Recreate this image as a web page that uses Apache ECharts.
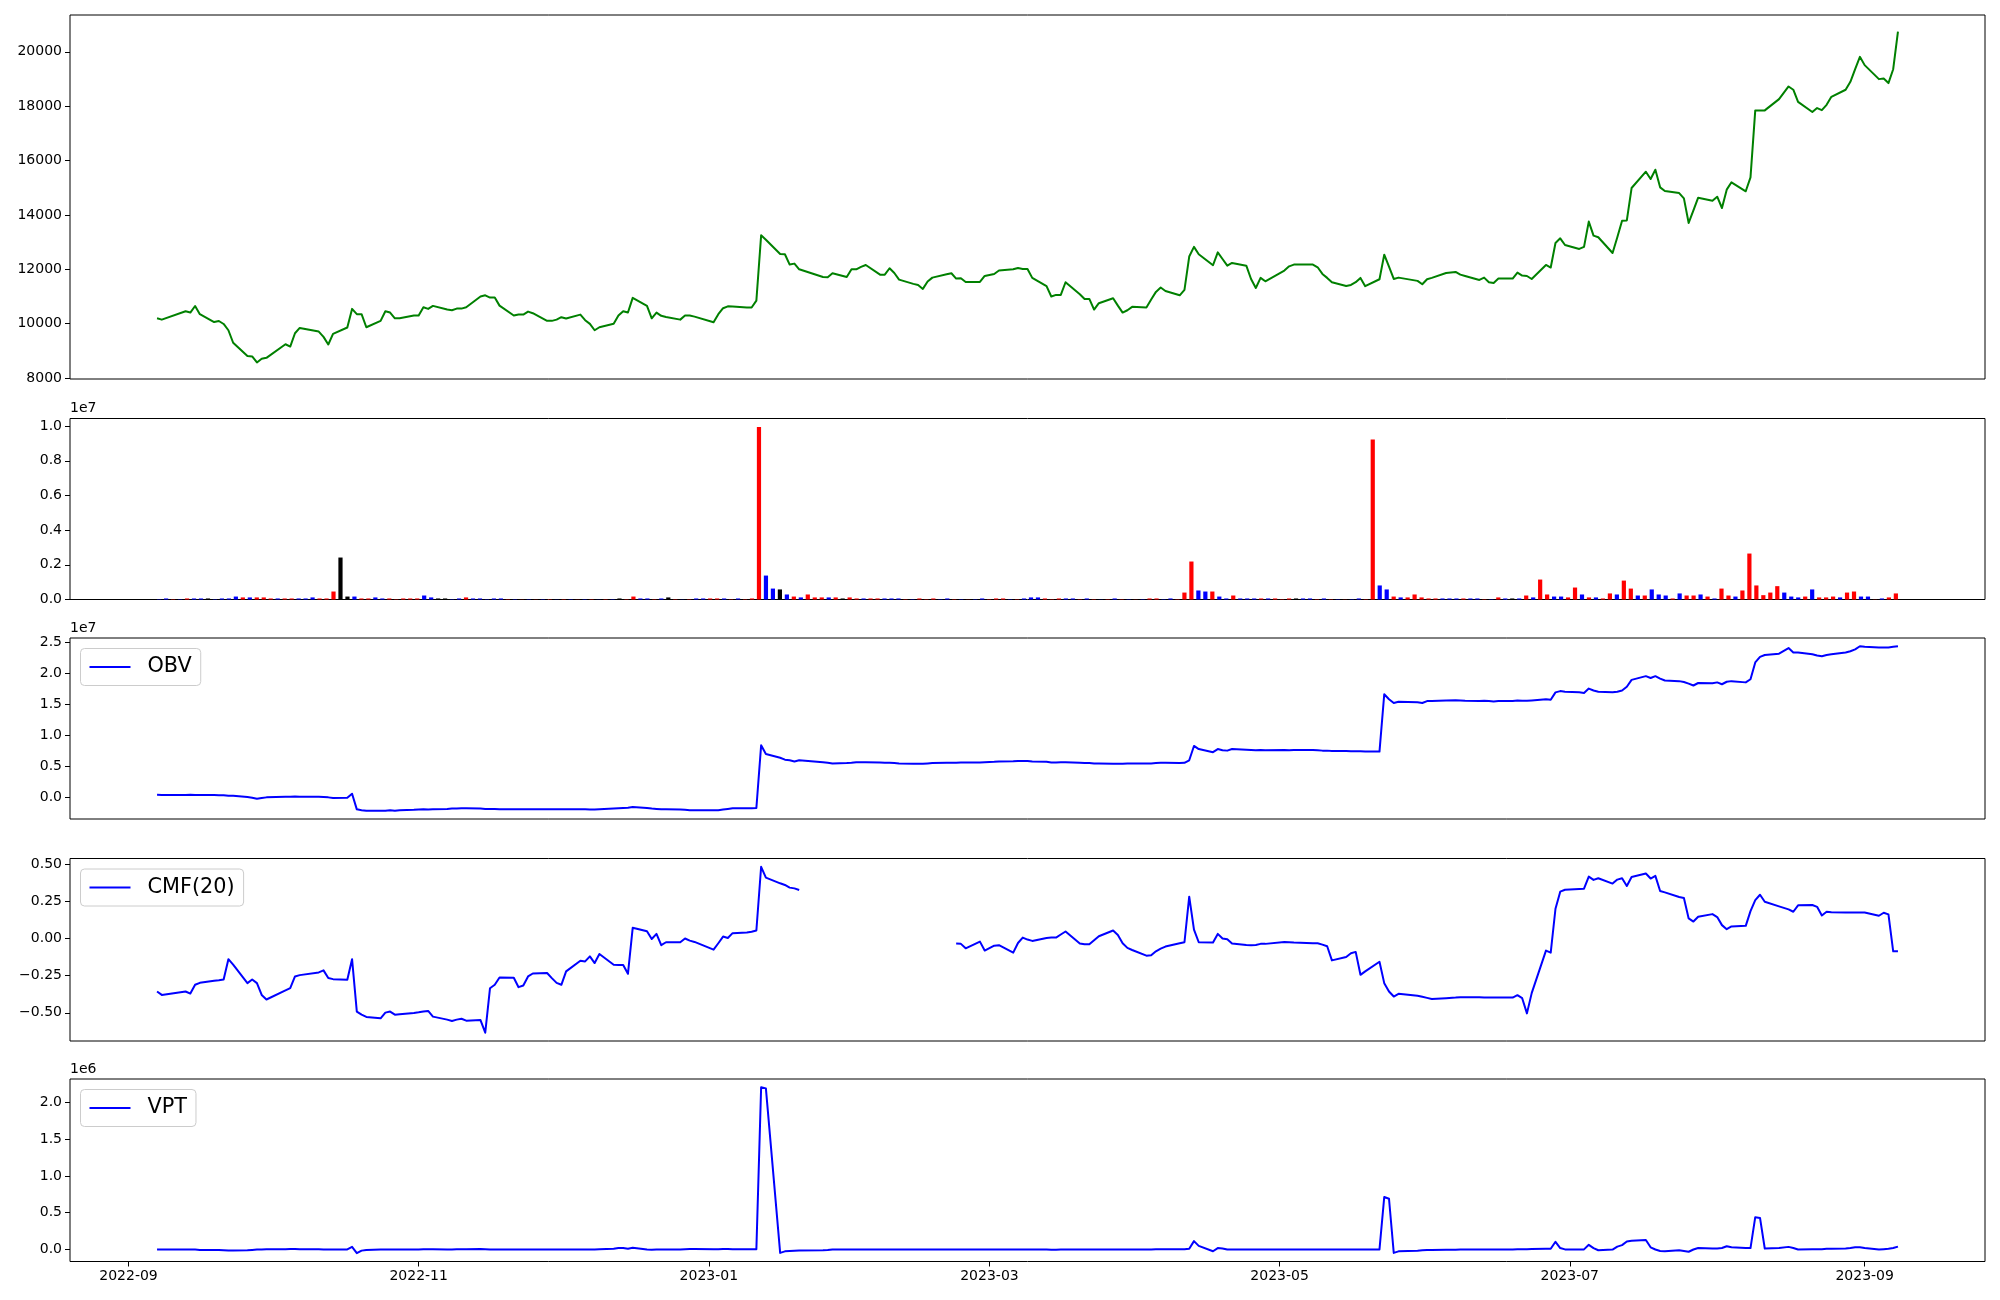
<!DOCTYPE html>
<html><head><meta charset="utf-8">
<script src="https://cdn.jsdelivr.net/npm/echarts@6/dist/echarts.min.js"></script>
<style>html,body{margin:0;padding:0;background:#fff}#c{width:2000px;height:1300px}</style>
</head><body><div id="c"></div>
<script>
// ---------------- data ----------------
const firstDay = '2022-09-07';
const lastDay = '2023-09-08';
const holidays = ['2022-09-09','2022-09-12','2022-10-03','2022-10-10','2022-12-30','2023-01-23','2023-01-24',
  '2023-03-01','2023-05-01','2023-05-05','2023-05-29','2023-06-06','2023-08-15'];

const monthTicks = ['2022-09-01','2022-11-01','2023-01-01','2023-03-01','2023-05-01','2023-07-01','2023-09-01'];
const priceTicks = [8000,10000,12000,14000,16000,18000,20000];
const volTicksE6 = [0,2,4,6,8,10];
const obvTicksE7 = [0,0.5,1.0,1.5,2.0,2.5];
const cmfTicks = [-0.5,-0.25,0,0.25,0.5];
const vptTicksE6 = [0,0.5,1.0,1.5,2.0];

const close = [
10200,10150,10460,10410,10650,10350,
10060,10100,9990,9760,9300,
8810,8795,8575,8710,8745,
9245,9160,9650,9845,
9710,9515,9235,9625,
9860,10545,10350,10350,9870,
10105,10460,10410,10200,10200,
10300,10300,10605,10545,10655,
10520,10495,10555,10555,10605,
11000,11045,10960,10960,10665,
10300,10335,10335,10445,10385,
10105,10105,10150,10240,10190,
10335,10130,9995,9760,9870,
9995,10300,10460,10410,10950,
10655,10200,10410,10290,10250,
10150,10300,10300,10260,
10055,10350,10570,10640,10630,
10600,10595,10850,13250,13090,
12565,12555,12175,12210,12000,
11720,11710,11855,
11720,12000,12000,12090,12160,
11805,11805,12040,11865,11620,
11465,11425,11280,11550,11695,
11820,11855,11660,11670,11535,
11535,11755,
11830,11955,
12000,12050,12015,12015,11685,
11380,11000,11060,11060,11525,
11085,10910,10910,10520,10755,
10935,10665,10410,10495,10620,
10595,10890,11170,11330,11205,
11045,11245,12470,12825,12555,
12150,12625,12380,12135,12235,
12135,11645,11315,11685,11560,
11955,12110,12175,
12175,12075,11830,11685,11525,
11390,11425,11525,11685,11380,
11635,12540,12100,11645,11695,
11575,11450,11635,11685,
11865,
11905,11805,11755,
11610,11695,11525,11500,11660,
11660,11880,11770,11755,11645,
12160,12065,12970,13140,12895,
12750,12825,13755,13240,13180,
12600,13180,13790,13800,14990,
15590,15320,15665,15015,14880,
14805,14610,13705,14170,14635,
14525,14670,14255,14930,15200,
14870,15380,17845,17845,17845,
18260,
18725,18605,18160,
17785,17930,17855,18050,18345,
18605,18895,19360,19815,
19510,
18995,19020,18850,19360,20745
];

// volume in millions of shares
const volumeE6 = [
0.02,0.06,0.02,0.02,0.06,0.06,0.06,0.06,0.02,0.06,
0.06,0.17,0.12,0.12,0.12,0.12,0.06,0.06,0.06,0.06,
0.06,0.06,0.12,0.06,0.06,0.46,2.42,0.17,0.17,0.06,
0.06,0.12,0.06,0.06,0.02,0.06,0.06,0.06,0.23,0.12,
0.06,0.06,0.02,0.06,0.12,0.06,0.06,0.02,0.06,0.06,
0.02,0.02,0.01,0.02,0.01,0.02,0.02,0.01,0.02,0.02,
0.01,0.02,0.02,0.01,0.02,0.02,0.06,0.02,0.17,0.06,
0.06,0.02,0.06,0.12,0.02,0.01,0.02,0.06,0.06,0.06,
0.06,0.06,0.02,0.06,0.02,0.06,9.94,1.38,0.63,0.58,
0.29,0.17,0.12,0.29,0.12,0.12,0.12,0.12,0.06,0.12,
0.06,0.06,0.06,0.06,0.06,0.06,0.06,0.02,0.02,0.06,
0.02,0.06,0.02,0.06,0.02,0.02,0.01,0.02,0.06,0.02,
0.06,0.06,0.02,0.02,0.06,0.12,0.12,0.06,0.02,0.06,
0.06,0.06,0.02,0.06,0.02,0.01,0.02,0.06,0.02,0.02,
0.01,0.02,0.06,0.06,0.02,0.06,0.02,0.40,2.19,0.52,
0.46,0.46,0.17,0.06,0.23,0.06,0.06,0.06,0.06,0.06,
0.06,0.02,0.06,0.06,0.06,0.06,0.02,0.06,0.02,0.02,
0.01,0.02,0.06,0.02,9.22,0.81,0.58,0.17,0.12,0.12,
0.29,0.12,0.06,0.06,0.06,0.06,0.06,0.06,0.06,0.06,
0.02,0.02,0.12,0.06,0.06,0.06,0.23,0.12,1.15,0.29,
0.17,0.17,0.12,0.69,0.29,0.12,0.12,0.06,0.35,0.29,
1.09,0.63,0.23,0.23,0.58,0.29,0.23,0.06,0.35,0.23,
0.23,0.29,0.17,0.06,0.63,0.23,0.17,0.52,2.65,0.81,
0.25,0.40,0.77,0.40,0.17,0.12,0.17,0.58,0.12,0.12,
0.17,0.12,0.40,0.46,0.17,0.17,0.01,0.06,0.12,0.35
];

// day direction: 1 up, -1 down, 0 unchanged
const volDir = [
-1,-1,1,-1,1,-1,-1,0,-1,-1,
-1,-1,1,-1,1,1,1,-1,1,1,
-1,-1,-1,1,1,1,0,0,-1,1,
1,-1,-1,1,1,1,1,1,-1,-1,
0,0,-1,-1,1,-1,-1,-1,-1,-1,
1,-1,1,-1,1,-1,1,-1,1,-1,
1,-1,1,-1,1,-1,0,1,1,-1,
-1,1,-1,0,1,-1,1,-1,-1,1,
1,-1,1,-1,1,1,1,-1,-1,0,
-1,1,-1,1,1,1,-1,1,0,1,
1,-1,1,1,-1,-1,-1,1,-1,1,
1,1,-1,-1,1,-1,1,-1,-1,1,
1,1,-1,1,-1,-1,-1,1,1,1,
-1,-1,1,-1,1,-1,1,-1,1,-1,
1,-1,1,1,-1,-1,1,1,1,-1,
-1,1,-1,-1,1,-1,-1,-1,1,-1,
1,1,1,0,-1,-1,1,-1,1,-1,
1,-1,-1,1,1,-1,-1,1,-1,1,
1,1,1,1,-1,-1,-1,1,-1,-1,
1,-1,1,-1,0,-1,1,-1,1,1,
-1,-1,1,1,-1,1,-1,1,1,-1,
1,1,-1,1,-1,-1,-1,1,-1,1,
1,-1,1,-1,1,1,-1,1,1,1,
1,1,1,-1,-1,-1,1,-1,1,1,
1,-1,1,1,-1,-1,1,-1,1,1
];

// OBV in units of 1e7
const obvE7 = [
0.048,0.045,0.045,0.048,0.045,0.043,0.043,0.040,0.040,0.030,
0.030,0.010,0.000,-0.016,-0.005,0.005,0.016,0.016,0.020,0.016,
0.016,0.010,0.005,-0.005,0.000,0.064,-0.187,-0.200,-0.210,-0.210,
-0.210,-0.200,-0.210,-0.200,-0.195,-0.190,-0.185,-0.190,-0.187,-0.180,
-0.175,-0.175,-0.170,-0.170,-0.175,-0.180,-0.180,-0.180,-0.185,-0.185,
-0.185,-0.185,-0.185,-0.185,-0.187,-0.187,-0.187,-0.187,-0.187,-0.187,
-0.187,-0.190,-0.190,-0.185,-0.175,-0.170,-0.165,-0.160,-0.150,-0.165,
-0.175,-0.180,-0.187,-0.187,-0.190,-0.195,-0.200,-0.200,-0.203,-0.200,
-0.190,-0.180,-0.170,-0.170,-0.170,-0.165,0.840,0.700,0.640,0.610,
0.600,0.580,0.600,0.570,0.560,0.550,0.555,0.560,0.570,0.570,
0.570,0.565,0.560,0.560,0.555,0.550,0.545,0.545,0.545,0.550,
0.555,0.560,0.560,0.560,0.565,0.565,0.565,0.570,0.575,0.580,
0.585,0.590,0.590,0.590,0.580,0.575,0.565,0.565,0.570,0.570,
0.560,0.555,0.555,0.550,0.550,0.545,0.545,0.545,0.550,0.550,
0.550,0.550,0.555,0.560,0.560,0.555,0.560,0.600,0.830,0.780,
0.730,0.780,0.760,0.755,0.780,0.770,0.765,0.760,0.765,0.760,
0.765,0.760,0.765,0.765,0.760,0.755,0.755,0.750,0.750,0.745,
0.745,0.745,0.740,0.740,1.660,1.580,1.520,1.540,1.530,1.520,
1.550,1.550,1.560,1.565,1.560,1.555,1.550,1.555,1.550,1.545,
1.550,1.550,1.560,1.555,1.555,1.560,1.580,1.570,1.690,1.710,
1.700,1.690,1.680,1.750,1.720,1.700,1.690,1.700,1.720,1.780,
1.890,1.950,1.920,1.950,1.910,1.880,1.870,1.855,1.830,1.800,
1.840,1.835,1.850,1.820,1.860,1.870,1.850,1.900,2.170,2.260,
2.290,2.310,2.400,2.330,2.330,2.300,2.280,2.270,2.290,2.300,
2.330,2.350,2.380,2.430,2.420,2.410,2.410,2.410,2.420,2.430
];

// CMF(20); null = not available
const cmf20 = [
-0.357,-0.380,-0.357,-0.371,-0.312,-0.299,-0.285,-0.281,-0.276,-0.140,
-0.177,-0.301,-0.276,-0.301,-0.380,-0.411,-0.350,-0.335,-0.256,-0.247,
-0.229,-0.215,-0.267,-0.274,-0.278,-0.140,-0.492,-0.513,-0.528,-0.537,
-0.499,-0.492,-0.513,-0.510,-0.501,-0.497,-0.492,-0.488,-0.526,-0.546,
-0.555,-0.546,-0.540,-0.553,-0.549,-0.634,-0.335,-0.312,-0.263,-0.265,
-0.328,-0.317,-0.256,-0.236,-0.233,-0.267,-0.299,-0.312,-0.222,-0.150,
-0.155,-0.121,-0.166,-0.105,-0.177,-0.179,-0.179,-0.238,0.071,0.048,
-0.004,0.030,-0.046,-0.026,-0.026,-0.001,-0.015,-0.024,-0.076,-0.033,
0.012,0.003,0.035,0.039,0.044,0.053,0.481,0.408,0.370,0.359,
0.341,0.336,0.325,null,null,null,null,null,null,null,
null,null,null,null,null,null,null,null,null,null,
null,null,null,-0.035,-0.037,-0.067,-0.022,-0.082,-0.049,-0.046,
-0.096,-0.031,0.005,-0.008,-0.017,0.003,0.005,0.005,0.026,0.046,
-0.035,-0.040,-0.040,-0.013,0.014,0.053,0.023,-0.033,-0.064,-0.078,
-0.116,-0.114,-0.087,-0.069,-0.055,-0.033,-0.026,0.280,0.059,-0.026,
-0.028,0.030,-0.001,-0.006,-0.035,-0.044,-0.046,-0.044,-0.037,-0.037,
-0.024,-0.026,-0.028,-0.033,-0.033,-0.042,-0.053,-0.148,-0.125,-0.100,
-0.091,-0.245,-0.222,-0.157,-0.301,-0.357,-0.391,-0.373,-0.386,-0.393,
-0.400,-0.407,-0.402,-0.398,-0.395,-0.395,-0.395,-0.398,-0.398,-0.398,
-0.398,-0.398,-0.382,-0.402,-0.504,-0.368,-0.082,-0.096,0.199,0.314,
0.327,0.332,0.334,0.415,0.393,0.404,0.368,0.395,0.404,0.352,
0.413,0.436,0.402,0.420,0.318,0.309,0.278,0.271,0.134,0.113,
0.145,0.163,0.143,0.089,0.062,0.080,0.084,0.183,0.257,0.293,
0.246,0.215,0.195,0.179,0.222,0.224,0.212,0.154,0.179,0.176,
0.174,0.174,0.174,0.174,0.174,0.152,0.172,0.161,-0.087,-0.087
];

// VPT in units of 1e6
const vptE6 = [
0.000,0.002,0.002,0.000,0.000,-0.005,-0.005,-0.008,-0.010,-0.012,
-0.014,-0.010,-0.005,0.000,0.002,0.004,0.004,0.006,0.006,0.004,
0.004,0.002,0.000,0.000,0.002,0.036,-0.050,-0.015,-0.005,0.000,
0.002,0.002,0.000,0.000,0.002,0.002,0.004,0.004,0.004,0.002,
0.002,0.004,0.004,0.004,0.006,0.004,0.002,0.002,0.002,0.002,
0.002,0.002,0.002,0.002,0.002,0.002,0.002,0.002,0.002,0.002,
0.002,0.002,0.002,0.004,0.010,0.020,0.020,0.010,0.023,0.000,
-0.002,0.000,0.002,0.002,0.002,0.004,0.006,0.006,0.004,0.004,
0.006,0.006,0.004,0.004,0.004,0.004,2.205,2.190,-0.046,-0.025,
-0.020,-0.015,-0.012,-0.010,-0.008,0.000,0.002,0.002,0.002,0.002,
0.002,0.002,0.002,0.002,0.002,0.002,0.002,0.002,0.002,0.002,
0.002,0.002,0.002,0.002,0.002,0.002,0.002,0.002,0.002,0.002,
0.002,0.002,0.002,0.002,0.002,0.000,-0.002,-0.002,0.000,0.002,
0.002,0.002,0.000,0.000,0.002,0.002,0.002,0.000,0.002,0.002,
0.002,0.002,0.004,0.004,0.004,0.004,0.004,0.010,0.114,0.050,
-0.023,0.020,0.015,0.000,0.002,0.002,0.000,0.000,0.002,0.002,
0.002,0.002,0.002,0.002,0.002,0.002,0.002,0.002,0.002,0.002,
0.002,0.002,0.002,0.002,0.714,0.690,-0.046,-0.025,-0.015,-0.010,
-0.008,-0.005,-0.004,-0.002,0.000,0.000,0.002,0.002,0.002,0.002,
0.002,0.002,0.004,0.004,0.004,0.006,0.010,0.010,0.105,0.020,
0.002,0.000,0.002,0.064,0.020,-0.010,0.000,0.040,0.060,0.110,
0.120,0.130,0.030,0.000,-0.020,-0.023,-0.010,-0.020,-0.030,0.000,
0.020,0.015,0.015,0.020,0.045,0.030,0.020,0.020,0.440,0.430,
0.014,0.020,0.036,0.020,0.000,0.005,0.005,0.005,0.010,0.010,
0.015,0.020,0.030,0.030,0.020,0.000,0.005,0.010,0.020,0.040
];

// ---------------- build ----------------
const DAY = 86400000;
function ts(s){ const p = s.split('-').map(Number); return Date.UTC(p[0], p[1]-1, p[2]); }
const dates = [];
for (let t = ts(firstDay); t <= ts(lastDay); t += DAY) {
  const w = new Date(t).getUTCDay();
  if (w === 0 || w === 6) continue;
  if (holidays.includes(new Date(t).toISOString().slice(0,10))) continue;
  dates.push(t);
}
function pad(lo, hi){ const r = hi - lo; return [lo - 0.05*r, hi + 0.05*r]; }
function ext(a){ const v = a.filter(x => x !== null); return [Math.min(...v), Math.max(...v)]; }
function pairs(arr){ return arr.map((v,i) => [dates[i], v === null ? '-' : v]); }

const xT = pad(dates[0], dates[dates.length-1]);
const N = volumeE6.length, BW = 0.6;
const xB = pad(-BW/2, N - 1 + BW/2);
const yP = pad(...ext(close));
const yO = pad(...ext(obvE7));
const yC = pad(...ext(cmf20));
const yV = pad(...ext(vptE6));
const yVol = [0, Math.max(...volumeE6) * 1.05];

const FONT = 'DejaVu Sans';
const tops = [15, 418.5, 638, 858.5, 1079];
const heights = [364, 181, 181, 182.5, 182.5];
const grids = tops.map((t,i) => ({left:70, width:1915, top:t, height:heights[i], show:true,
  borderColor:'#000', borderWidth:1, backgroundColor:'transparent', containLabel:false, outerBoundsMode:'none'}));

function yAxis(gi, lim, ticks, fmt, name){
  return {type:'value', gridIndex:gi, min:lim[0], max:lim[1], scale:true, position:'left',
    splitLine:{show:false}, axisLine:{show:false, onZero:false},
    axisTick:{show:true, inside:false, length:5, lineStyle:{color:'#000', width:1}, customValues:ticks},
    axisLabel:{show:true, customValues:ticks, formatter:fmt, color:'#000', fontSize:14, fontFamily:FONT, margin:8},
    name: name || '', nameLocation:'end', nameGap:3,
    nameTextStyle:{align:'left', verticalAlign:'bottom', fontSize:14, fontFamily:FONT, color:'#000', padding:[0,0,0,0]}};
}
function xHidden(gi, lim){
  return {type:'value', gridIndex:gi, min:lim[0], max:lim[1], position:'bottom', splitLine:{show:false},
    axisLine:{show:false, onZero:false}, axisTick:{show:false}, axisLabel:{show:false}};
}
const monthTs = monthTicks.map(ts);
const xBottom = {type:'value', gridIndex:4, min:xT[0], max:xT[1], position:'bottom', splitLine:{show:false},
  axisLine:{show:false, onZero:false},
  axisTick:{show:true, length:5, lineStyle:{color:'#000', width:1}, customValues:monthTs},
  axisLabel:{show:true, customValues:monthTs, color:'#000', fontSize:14, fontFamily:FONT, margin:8,
    formatter: v => { const d = new Date(v); return d.getUTCFullYear() + '-' + String(d.getUTCMonth()+1).padStart(2,'0'); }}};

const dirColor = {'1':'#ff0000', '-1':'#0000ff', '0':'#000000'};
const lineBase = {type:'line', showSymbol:false, symbol:'none', animation:false, connectNulls:false,
  lineStyle:{width:2, join:'round', cap:'butt'}, emphasis:{disabled:true}};

function legend(name, top){
  return {data:[name], left:80.5, top:top, orient:'vertical', selectedMode:false,
    backgroundColor:'rgba(255,255,255,0.8)', borderColor:'#cccccc', borderWidth:1, borderRadius:4,
    padding:[8,9,8,9], icon:'rect', itemWidth:41, itemHeight:2.2,
    textStyle:{fontSize:20.8, fontFamily:FONT, color:'#000', lineHeight:20, padding:[0,0,0,12]}};
}

const option = {
  animation:false,
  backgroundColor:'#ffffff',
  grid: grids,
  xAxis: [xHidden(0, xT), xHidden(1, xB), xHidden(2, xT), xHidden(3, xT), xBottom],
  yAxis: [
    yAxis(0, yP, priceTicks, v => String(v)),
    yAxis(1, yVol, volTicksE6, v => (v/10).toFixed(1), '1e7'),
    yAxis(2, yO, obvTicksE7, v => v.toFixed(1), '1e7'),
    yAxis(3, yC, cmfTicks, v => (v < 0 ? '\u2212' : '') + Math.abs(v).toFixed(2)),
    yAxis(4, yV, vptTicksE6, v => v.toFixed(1), '1e6')
  ],
  legend: [legend('OBV', 648.5), legend('CMF(20)', 869), legend('VPT', 1089.5)],
  series: [
    Object.assign({}, lineBase, {name:'Close', xAxisIndex:0, yAxisIndex:0, color:'#008000', data:pairs(close)}),
    {name:'Volume', type:'bar', xAxisIndex:1, yAxisIndex:1, barWidth:4.2, animation:false,
      data: volumeE6.map((v,i) => ({value:[i, v], itemStyle:{color:dirColor[String(volDir[i])]}}))},
    Object.assign({}, lineBase, {name:'OBV', xAxisIndex:2, yAxisIndex:2, color:'#0000ff', data:pairs(obvE7)}),
    Object.assign({}, lineBase, {name:'CMF(20)', xAxisIndex:3, yAxisIndex:3, color:'#0000ff', data:pairs(cmf20)}),
    Object.assign({}, lineBase, {name:'VPT', xAxisIndex:4, yAxisIndex:4, color:'#0000ff', data:pairs(vptE6)})
  ]
};
const chart = echarts.init(document.getElementById('c'), null, {renderer:'canvas'});
chart.setOption(option);
</script>
</body></html>
